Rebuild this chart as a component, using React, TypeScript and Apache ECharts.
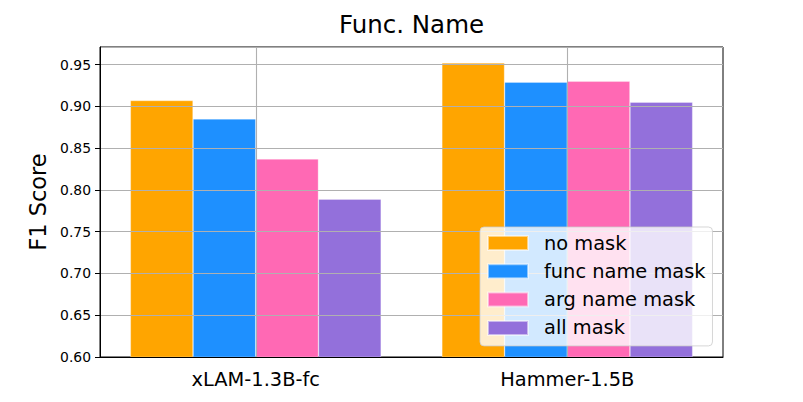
import React, { useEffect, useRef } from "react";
import * as echarts from "echarts";

const categories = ["xLAM-1.3B-fc", "Hammer-1.5B"];
const seriesNames = ["no mask", "func name mask", "arg name mask", "all mask"];
const noMask = [0.907, 0.952];
const funcNameMask = [0.885, 0.929];
const argNameMask = [0.837, 0.93];
const allMask = [0.789, 0.905];
const seriesValues = [noMask, funcNameMask, argNameMask, allMask];
const seriesColors = ["#FFA500", "#1E90FF", "#FF69B4", "#9370DB"];
const yMin = 0.6;
const yMax = 0.971;
const yInterval = 0.05;

const FONT = "DejaVu Sans";

export default function App() {
  const ref = useRef<HTMLDivElement>(null);
  useEffect(() => {
    if (!ref.current) return;
    const chart = echarts.init(ref.current, undefined, { renderer: "svg" });
    chart.setOption({
      animation: false,
      backgroundColor: "#ffffff",
      textStyle: { fontFamily: FONT },
      title: {
        text: "Func. Name",
        left: 411.5,
        textAlign: "center",
        top: 11.5,
        padding: 0,
        textStyle: { fontFamily: FONT, fontSize: 24.5, fontWeight: "normal", color: "#000" },
      },
      grid: {
        left: 100,
        right: 80,
        top: 47,
        bottom: 45,
        show: true,
        borderColor: "#000",
        borderWidth: 1,
        backgroundColor: "transparent",
      },
      legend: {
        orient: "vertical",
        left: 480,
        top: 227,
        z: 10,
        padding: [6, 7, 8, 7],
        itemWidth: 40,
        itemHeight: 14,
        itemGap: 8.3,
        backgroundColor: "rgba(255,255,255,0.8)",
        borderColor: "rgba(204,204,204,0.8)",
        borderWidth: 1,
        borderRadius: 4,
        icon: "rect",
        data: seriesNames,
        textStyle: {
          fontFamily: FONT,
          fontSize: 19.4,
          lineHeight: 20,
          color: "#000",
          padding: [0, 0, 0, 11],
        },
      },
      xAxis: {
        type: "category",
        data: categories,
        z: 3,
        axisLine: { lineStyle: { color: "#000", width: 1 } },
        axisTick: { alignWithLabel: true, length: 5, lineStyle: { color: "#000", width: 1 } },
        axisLabel: { fontFamily: FONT, fontSize: 19.4, color: "#000", margin: 13 },
        splitLine: {
          show: true,
          alignWithLabel: true,
          lineStyle: { color: "#b0b0b0", width: 1.1 },
        },
      },
      yAxis: {
        type: "value",
        min: yMin,
        max: yMax,
        interval: yInterval,
        z: 3,
        name: "F1 Score",
        nameLocation: "middle",
        nameGap: 45,
        nameTextStyle: { fontFamily: FONT, fontSize: 22.5, color: "#000" },
        axisLine: { show: true, lineStyle: { color: "#000", width: 1 } },
        axisTick: { show: true, length: 5, lineStyle: { color: "#000", width: 1 } },
        axisLabel: {
          fontFamily: FONT,
          fontSize: 13.9,
          color: "#000",
          margin: 9,
          showMaxLabel: false,
          formatter: (v: number) => v.toFixed(2),
        },
        splitLine: { show: true, lineStyle: { color: "#b0b0b0", width: 1.1 } },
      },
      series: seriesNames.map((name, i) => ({
        name,
        type: "bar",
        data: seriesValues[i],
        barWidth: 62.7,
        barGap: "0%",
        itemStyle: {
          color: seriesColors[i],
          borderColor: "rgba(255,255,255,0.5)",
          borderWidth: 0.6,
        },
      })),
    });
    return () => chart.dispose();
  }, []);
  return (
    <div
      ref={ref}
      style={{ position: "fixed", left: 0, top: 0, width: 803, height: 402 }}
    />
  );
}
